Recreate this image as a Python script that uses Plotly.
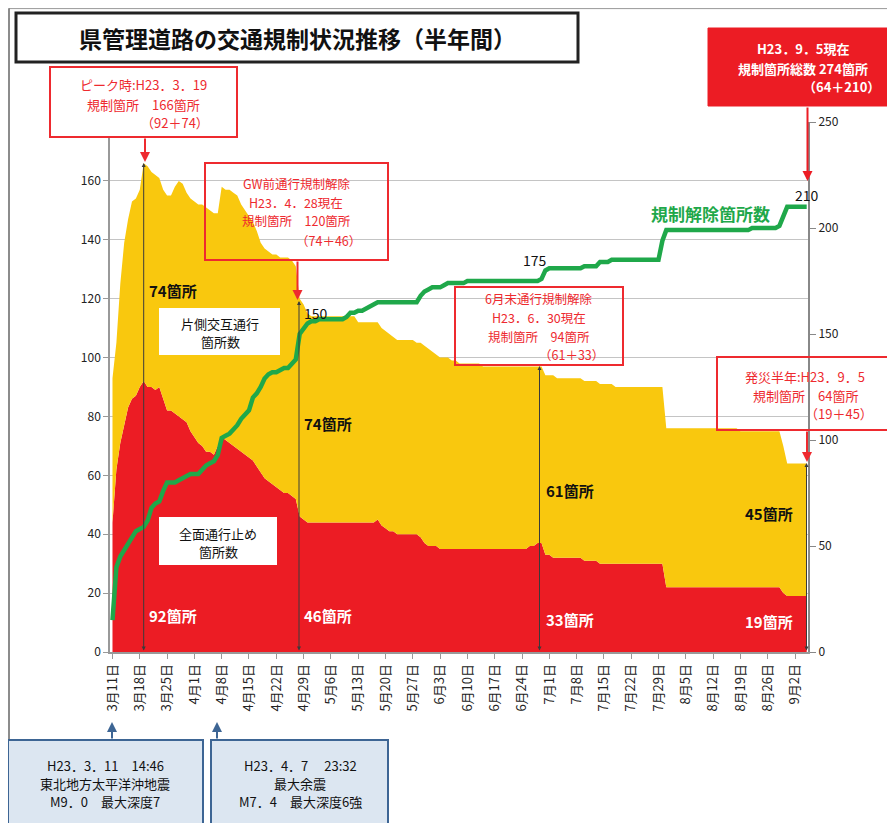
import pandas as pd
import plotly.graph_objects as go

# ---------------- data (daily, 2011-03-11 .. 2011-09-05) ----------------
start_date = "2011-03-11"

# 規制箇所数 合計 (全面通行止め + 片側交互通行)
total_regulated = [
    93, 105, 125, 139, 147, 153, 154, 157, 166, 165,
    163, 162, 161, 157, 155, 155, 158, 160, 159, 156,
    154, 153, 152, 152, 151, 150, 149, 149, 158, 157,
    157, 156, 155, 152, 150, 148, 146, 143, 139, 137,
    136, 135, 135, 134, 134, 134, 133, 131, 120, 118,
    115, 114, 114, 114, 114, 114, 114, 114, 114, 114,
    114, 114, 114, 112, 112, 112, 112, 112, 112, 110,
    109, 108, 107, 106, 106, 106, 106, 106, 105, 105,
    104, 103, 102, 101, 100, 100, 100, 99, 99, 98,
    98, 98, 98, 98, 98, 97, 97, 97, 97, 97,
    97, 97, 97, 97, 97, 97, 97, 97, 97, 97,
    97, 94, 94, 94, 93, 93, 93, 93, 93, 93,
    93, 92, 92, 92, 92, 91, 91, 91, 91, 90,
    90, 90, 90, 90, 90, 90, 90, 90, 90, 90,
    90, 90, 76, 76, 76, 76, 76, 76, 76, 76,
    76, 76, 76, 76, 76, 76, 76, 76, 76, 76,
    76, 75, 75, 75, 75, 75, 75, 75, 75, 75,
    75, 75, 70, 64, 64, 64, 64, 64, 64,
]

# 全面通行止め箇所数
full_closure = [
    44, 62, 71, 77, 83, 86, 87, 90, 92, 90,
    90, 89, 90, 86, 82, 82, 81, 80, 79, 78,
    75, 73, 71, 70, 68, 68, 67, 70, 73, 72,
    71, 70, 69, 68, 67, 66, 65, 63, 61, 59,
    58, 57, 56, 55, 54, 54, 53, 52, 46, 45,
    44, 44, 44, 44, 44, 44, 44, 44, 44, 44,
    44, 44, 44, 44, 44, 44, 44, 44, 45, 43,
    42, 41, 41, 40, 40, 40, 40, 40, 40, 39,
    37, 36, 36, 36, 35, 35, 35, 35, 35, 35,
    35, 35, 35, 35, 35, 35, 35, 35, 35, 35,
    35, 35, 35, 35, 35, 35, 35, 36, 36, 37,
    37, 33, 33, 32, 32, 32, 32, 32, 32, 32,
    32, 31, 31, 31, 31, 30, 30, 30, 30, 30,
    30, 30, 30, 30, 30, 30, 30, 30, 30, 30,
    30, 30, 22, 22, 22, 22, 22, 22, 22, 22,
    22, 22, 22, 22, 22, 22, 22, 22, 22, 22,
    22, 22, 22, 22, 22, 22, 22, 22, 22, 22,
    22, 22, 20, 19, 19, 19, 19, 19, 19,
]

# 規制解除箇所数 (右軸)
cleared = [
    15, 40, 45, 48, 52, 55, 57, 58, 59, 62,
    68, 70, 71, 76, 80, 80, 80, 81, 82, 83,
    84, 84, 84, 86, 88, 89, 90, 93, 101, 102,
    103, 105, 107, 110, 112, 114, 120, 122, 125, 129,
    131, 132, 132, 133, 134, 134, 136, 138, 150, 153,
    155, 156, 156, 157, 157, 157, 157, 157, 157, 157,
    158, 160, 160, 161, 161, 162, 163, 164, 165, 165,
    165, 165, 165, 165, 165, 165, 165, 165, 165, 168,
    170, 171, 172, 172, 172, 173, 174, 174, 174, 174,
    174, 175, 175, 175, 175, 175, 175, 175, 175, 175,
    175, 175, 175, 175, 175, 175, 175, 175, 175, 175,
    176, 180, 181, 181, 181, 181, 181, 181, 181, 181,
    181, 182, 182, 182, 182, 184, 184, 184, 185, 185,
    185, 185, 185, 185, 185, 185, 185, 185, 185, 185,
    185, 194, 199, 199, 199, 199, 199, 199, 199, 199,
    199, 199, 199, 199, 199, 199, 199, 199, 199, 199,
    199, 199, 199, 199, 200, 200, 200, 200, 200, 200,
    200, 201, 206, 210, 210, 210, 210, 210, 210,
]

tick_labels = ["3月11日", "3月18日", "3月25日", "4月1日", "4月8日", "4月15日",
               "4月22日", "4月29日", "5月6日", "5月13日", "5月20日", "5月27日",
               "6月3日", "6月10日", "6月17日", "6月24日", "7月1日", "7月8日",
               "7月15日", "7月22日", "7月29日", "8月5日", "8月12日", "8月19日",
               "8月26日", "9月2日"]
left_ticks = [0, 20, 40, 60, 80, 100, 120, 140, 160, 180]
left_tick_text = ["0", "20", "40", "60", "80", "100", "120", "140", "160", ""]
right_ticks = [0, 50, 100, 150, 200, 250]

dates = pd.date_range(start_date, periods=len(total_regulated), freq="D")
tick_dates = pd.date_range("2011-03-11", periods=len(tick_labels), freq="7D")

# ---------------- style ----------------
FONT = "Noto Sans CJK JP"
RED = "#ec1c24"
YEL = "#f9c80e"
GREEN = "#1fa84a"
TXTRED = "#ee2a2f"

# page has an 8px body margin: figure is drawn 8px right/down of page origin
OFF = 8
W, H = 895 - OFF, 823 - OFF
PL, PR, PT, PB = 110, 808, 122, 652   # plot area in page pixels


def fx(px):
    return (px - PL) / (PR - PL)


def fy(py):
    return (PB - py) / (PB - PT)


fig = go.Figure()
fig.add_trace(go.Scatter(x=dates, y=full_closure, mode="lines", fill="tozeroy",
                         line=dict(width=0, color=RED), fillcolor=RED,
                         name="全面通行止め箇所数", hoverinfo="skip"))
fig.add_trace(go.Scatter(x=dates, y=total_regulated, mode="lines", fill="tonexty",
                         line=dict(width=0, color=YEL), fillcolor=YEL,
                         name="片側交互通行箇所数", hoverinfo="skip"))
fig.add_trace(go.Scatter(x=dates, y=cleared, mode="lines", yaxis="y2",
                         line=dict(width=4.5, color=GREEN),
                         name="規制解除箇所数", hoverinfo="skip"))

shapes = []
annotations = []


def rect(x0, y0, x1, y1, line_color, fill, width=1.5):
    shapes.append(dict(type="rect", xref="paper", yref="paper",
                       x0=fx(x0), x1=fx(x1), y0=fy(y1), y1=fy(y0),
                       line=dict(color=line_color, width=width),
                       fillcolor=fill, layer="above"))


def hline(x0, x1, y, color, width=1):
    shapes.append(dict(type="line", xref="paper", yref="paper",
                       x0=fx(x0), x1=fx(x1), y0=fy(y), y1=fy(y),
                       line=dict(color=color, width=width), layer="above"))


def vline(x, y0, y1, color, width=1):
    shapes.append(dict(type="line", xref="paper", yref="paper",
                       x0=fx(x), x1=fx(x), y0=fy(y0), y1=fy(y1),
                       line=dict(color=color, width=width), layer="above"))


def text(px, py, s, size=13, color="#111", anchor="center"):
    annotations.append(dict(xref="paper", yref="paper", x=fx(px), y=fy(py),
                            text=s, showarrow=False, xanchor=anchor,
                            yanchor="middle", borderpad=0,
                            font=dict(family=FONT, size=size, color=color)))


def arrow(px, tip, tail, color, width=1.5, head=2, size=1.0, both=False):
    annotations.append(dict(xref="paper", yref="paper", x=fx(px), y=fy(tip),
                            ax=0, ay=tail - tip, text="", showarrow=True,
                            arrowhead=head, arrowsize=size, arrowwidth=width,
                            arrowcolor=color, startarrowhead=head,
                            startarrowsize=size,
                            arrowside="end+start" if both else "end"))


# page frame
hline(8.5, 895, 8.6, "#999", 1)
vline(9, 8.6, 823, "#666", 1.5)

# title
rect(16, 13, 578, 62, "#222", "white", 3)
text(297, 38, "<b>県管理道路の交通規制状況推移（半年間）</b>", 23, "#111")

# black double arrows (data markers)
arrow(143.7, 163, 652, "#3a3a3a", 1, 2, 0.8, both=True)
arrow(299, 301, 652, "#3a3a3a", 1, 2, 0.8, both=True)
arrow(539.5, 366, 652, "#3a3a3a", 1, 2, 0.8, both=True)
arrow(806.5, 463, 652, "#3a3a3a", 1, 2, 0.8, both=True)

# peak box
rect(50, 67, 237, 137, TXTRED, "white", 2)
text(143.5, 85, "ピーク時:H23．3．19", 13, TXTRED)
text(143, 104, "規制箇所　166箇所", 13, TXTRED)
text(175, 122, "（92＋74）", 13, TXTRED)
arrow(145, 162, 137, TXTRED, 2, 2, 1.0)

# GW box
rect(205, 163, 388, 260, TXTRED, "rgba(0,0,0,0)", 2)
text(297, 183, "GW前通行規制解除", 12.5, TXTRED)
text(296, 202, "H23．4．28現在", 12.5, TXTRED)
text(296, 221, "規制箇所　120箇所", 12.5, TXTRED)
text(328, 241, "（74＋46）", 12.5, TXTRED)
arrow(297.5, 300, 260, TXTRED, 2, 2, 1.0)

# end of June box
rect(455, 287, 623, 365, TXTRED, "rgba(0,0,0,0)", 2)
text(538, 298, "6月末通行規制解除", 12.5, TXTRED)
text(539, 317, "H23．6．30現在", 12.5, TXTRED)
text(539, 336, "規制箇所　94箇所", 12.5, TXTRED)
text(571, 354, "（61＋33）", 12.5, TXTRED)

# 9/5 total box
rect(708, 28, 897, 106, RED, RED, 1)
text(803, 49, "<b>H23．9．5現在</b>", 13, "white")
text(803, 68, "<b>規制箇所総数 274箇所</b>", 13, "white")
text(841, 86, "<b>（64＋210）</b>", 13, "white")
arrow(807.5, 181, 106, RED, 2, 2, 1.0)

# half year box
rect(717, 357, 893, 430, TXTRED, "rgba(0,0,0,0)", 2)
text(805, 376, "発災半年:H23．9．5", 13, TXTRED)
text(805, 395, "規制箇所　64箇所", 13, TXTRED)
text(839, 413, "（19＋45）", 13, TXTRED)
arrow(807, 462, 430, TXTRED, 2, 2, 1.0)

# inner label boxes
rect(159, 308, 280, 355, "white", "white", 0)
text(220, 323, "片側交互通行", 13, "#111")
text(220, 341, "箇所数", 13, "#111")
rect(159, 517, 277, 565, "white", "white", 0)
text(218, 533, "全面通行止め", 13, "#111")
text(218, 551, "箇所数", 13, "#111")

# counts
text(148, 290, "<b>74箇所</b>", 15, "#111", "left")
text(148, 615, "<b>92箇所</b>", 15, "white", "left")
text(303, 423, "<b>74箇所</b>", 15, "#111", "left")
text(303, 615, "<b>46箇所</b>", 15, "white", "left")
text(545, 490, "<b>61箇所</b>", 15, "#111", "left")
text(545, 619, "<b>33箇所</b>", 15, "white", "left")
text(744, 513, "<b>45箇所</b>", 15, "#111", "left")
text(744, 621, "<b>19箇所</b>", 15, "white", "left")

# green line labels
text(303, 313, "150", 14, "#111", "left")
text(522, 260, "175", 14, "#111", "left")
text(794, 195, "210", 14, "#111", "left")
text(710, 213, "<b>規制解除箇所数</b>", 17, GREEN)

# earthquake boxes
BLUE = "#3d6594"
rect(8, 740, 203, 830, BLUE, "#dce6f1", 2)
text(105, 765, "H23．3．11　14:46", 13, "#111")
text(105, 783, "東北地方太平洋沖地震", 13, "#111")
text(105, 801, "M9．0　最大深度7", 13, "#111")
rect(211, 740, 388, 830, BLUE, "#dce6f1", 2)
text(300, 765, "H23．4．7　 23:32", 13, "#111")
text(300, 783, "最大余震", 13, "#111")
text(300, 801, "M7．4　最大深度6強", 13, "#111")
arrow(112, 722, 740, BLUE, 2, 2, 1.0)
arrow(217, 722, 740, BLUE, 2, 2, 1.0)

fig.update_layout(
    width=W, height=H,
    margin=dict(l=PL - OFF, r=(W + OFF) - PR, t=PT - OFF, b=(H + OFF) - PB),
    paper_bgcolor="white", plot_bgcolor="white",
    showlegend=False,
    font=dict(family=FONT, size=12, color="#222"),
    xaxis=dict(type="date",
               range=["2011-03-10 08:40", "2011-09-05 08:00"],
               tickvals=tick_dates, ticktext=tick_labels, tickangle=-90,
               ticks="outside", ticklen=5, tickcolor="#999",
               showline=True, linecolor="#999", linewidth=1.5,
               showgrid=False, zeroline=False,
               tickfont=dict(family=FONT, size=13, color="#222")),
    yaxis=dict(range=[0, 180], tickvals=left_ticks, ticktext=left_tick_text,
               ticks="outside", ticklen=5, tickcolor="#999",
               showline=True, linecolor="#999", linewidth=1.5,
               showgrid=True, gridcolor="#c4c4c4", gridwidth=1,
               zeroline=False,
               tickfont=dict(family=FONT, size=12, color="#222")),
    yaxis2=dict(range=[0, 250], tickvals=right_ticks, overlaying="y",
                side="right", ticks="outside", ticklen=6, tickcolor="#888",
                showline=True, linecolor="#888", linewidth=2,
                showgrid=False, zeroline=False,
                tickfont=dict(family=FONT, size=12, color="#222")),
    shapes=shapes,
    annotations=annotations,
)

fig.write_html("out.html")
